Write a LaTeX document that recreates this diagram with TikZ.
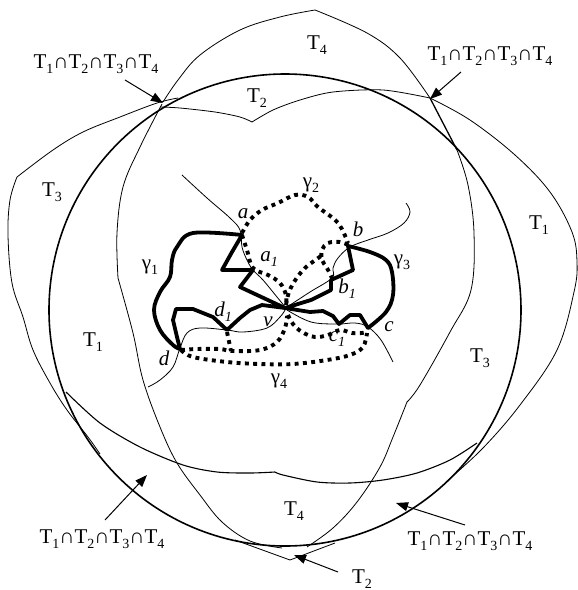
\documentclass[tikz,border=0pt]{standalone}
\usepackage{fontspec}
\setmainfont{Liberation Serif}
\usetikzlibrary{arrows.meta}
\newcommand\sbs[1]{\raisebox{-0.24em}{\fontsize{14}{14}\selectfont #1}}
\newcommand\TTTT{T\sbs{1}∩T\sbs{2}∩T\sbs{3}∩T\sbs{4}}
\begin{document}
\begin{tikzpicture}[x=1pt,y=-1pt,
  thinline/.style={line width=0.8pt},
  nline/.style={line width=1.1pt},
  circ/.style={line width=1.6pt},
  gsolid/.style={line width=3.8pt,line join=round,line cap=round},
  gdot/.style={line width=3.9pt,dash pattern=on 3.9pt off 4.4pt},
  lab/.style={font=\fontsize{21}{23}\selectfont,inner sep=0pt},
  ilab/.style={font=\fontsize{21}{23}\selectfont\itshape,inner sep=0pt},
  arr/.style={line width=1pt,-{Triangle[length=12pt,width=9pt]}}]
\useasboundingbox (0,0) rectangle (578,590);

% big thick circle
\draw[circ] (285,310) circle[radius=236];

% pointy top curve
\draw[thinline] plot[smooth,tension=0.6] coordinates {(163,102) (178,80) (200,55) (240,30) (280,17) (315,10)};
\draw[thinline] plot[smooth,tension=0.6] coordinates {(315,10) (367,33) (400,58) (430,98)};
% outer right curve
\draw[thinline] plot[smooth,tension=0.6] coordinates {(430,98) (470,120) (515,155) (550,192) (572,232) (577,262) (574,292) (557,350) (520,405) (483,448) (447,481)};
% outer left curve
\draw[thinline] plot[smooth,tension=0.6] coordinates {(178,98) (157,103) (120,117) (83,132) (53,150) (17,177)};
\draw[thinline] plot[smooth,tension=0.6] coordinates {(17,177) (10,200) (8,235) (12,283) (23,317) (33,350) (50,383) (67,410) (88,437) (100,454)};
% notched curve, top part
\draw[thinline] plot[smooth,tension=0.5] coordinates {(160,107) (180,108) (215,112) (240,117) (252,122)};
\draw[thinline] plot[smooth,tension=0.5] coordinates {(252,122) (273,110) (300,100) (333,92) (383,90) (430,98)};
\draw[line width=1.3pt] (430,98) -- (457,150);
% notched curve, bottom part
\draw[nline] plot[smooth,tension=0.5] coordinates {(66,392) (100,423) (140,447) (183,465) (217,472) (250,473) (275,472)};
\draw[nline] plot[smooth,tension=0.5] coordinates {(275,472) (283,475) (317,482) (350,483) (383,480) (417,473) (450,460) (477,443)};
% inner left curve
\draw[thinline] plot[smooth,tension=0.6] coordinates {(162,104) (140,147) (123,187) (117,233) (118,278)};
\draw[thinline] plot[smooth,tension=0.6] coordinates {(118,278) (133,333) (143,380) (160,427) (177,463) (200,495) (222,522) (250,541) (282,548)};
% inner right curve
\draw[thinline] plot[smooth,tension=0.6] coordinates {(457,150) (468,185) (474,233) (471,290) (450,332) (420,385) (407,402)};
\draw[thinline] plot[smooth,tension=0.6] coordinates {(407,402) (393,437) (380,467) (357,502) (333,528) (307,547)};
% bottom kink
\draw[thinline] (235,540) -- (290,560) -- (335,543);

% ---- centre: thin curves
\draw[thinline] plot[smooth,tension=0.6] coordinates {(182,175) (207,198) (230,218) (240,230) (242,247) (247,260) (253,270) (263,280) (277,297) (286,308)};
\draw[thinline] plot[smooth,tension=0.6] coordinates {(406,203) (410,212) (404,223) (388,233) (368,240) (350,247) (338,258) (333,268) (332,278) (310,292) (287,307)};
\draw[thinline] plot[smooth,tension=0.6] coordinates {(287,310) (311,322) (338,324) (355,323) (368,327) (381,340) (393,362)};
\draw[thinline] plot[smooth,tension=0.6] coordinates {(285,310) (280,317) (267,328) (243,332) (227,330) (200,328) (187,333) (180,348) (173,367) (160,380) (148,387)};

% gamma 1 (solid)
\draw[gsolid] plot[smooth,tension=0.6] coordinates {(242,235) (193,233) (177,247) (172,260) (170,277) (160,292) (154,310) (160,330) (173,345) (180,349)};
\draw[gsolid] (180,349) -- (177,337) -- (173,320) -- (176,309) -- (193,309) -- (213,317) -- (227,330) -- (240,318) -- (250,310) -- (262,305) -- (285,308)
  -- (240,287) -- (253,270) -- (222,270) -- (232,252) -- (242,235);
% gamma 3 (solid)
\draw[gsolid] plot[smooth,tension=0.6] coordinates {(348,246) (370,252) (386,260) (392,272) (393,295) (386,312) (368,328)};
\draw[gsolid] (368,328) -- (360,315) -- (350,315) -- (339,324) -- (333,316) -- (323,311) -- (310,312) -- (285,308)
  -- (311,300) -- (331,290) -- (331,280) -- (353,270) -- (348,246);

% gamma 2 (dotted)
\draw[gdot] plot[smooth,tension=0.6] coordinates {(242,233) (250,220) (262,210) (278,203) (295,195) (308,197) (318,207) (338,223) (348,243)};
\draw[gdot] plot[smooth,tension=0.6] coordinates {(348,245) (340,242) (328,243) (322,250) (322,260) (327,268) (332,278)};
\draw[gdot] plot[smooth,tension=0.6] coordinates {(286,305) (289,292) (296,279) (305,268) (314,261) (321,256)};
\draw[gdot] plot[smooth,tension=0.6] coordinates {(242,235) (247,250) (253,268) (268,275) (280,283) (286,295) (286,306)};
% gamma 4 (dotted)
\draw[gdot] plot[smooth,tension=0.6] coordinates {(181,350) (193,357) (227,362) (260,364) (293,364) (327,360) (350,355) (363,347) (367,333)};
\draw[gdot] plot[smooth,tension=0.6] coordinates {(181,350) (197,349) (220,349) (232,351) (260,350) (277,342) (285,328) (287,316)};
\draw[gdot] (227,332) -- (231,351);
\draw[gdot] plot[smooth,tension=0.6] coordinates {(288,315) (293,324) (302,332) (315,337) (328,335) (340,330) (352,333) (362,333) (367,332)};

% ---- labels
\node[lab] (Ltl) at (96,64) {\TTTT};
\node[lab] (Ltr) at (490,56) {\TTTT};
\node[lab] (Lbl) at (102,539) {\TTTT};
\node[lab] (Lbr) at (470,541) {\TTTT};
\node[lab] (T4t) at (317,45) {T\sbs{4}};
\node[lab] (T2t) at (257,98) {T\sbs{2}};
\node[lab] (T3l) at (52,192) {T\sbs{3}};
\node[lab] (T1l) at (93,342) {T\sbs{1}};
\node[lab] (T1r) at (539,225) {T\sbs{1}};
\node[lab] (T3r) at (480,358) {T\sbs{3}};
\node[lab] (T4b) at (294,511) {T\sbs{4}};
\node[lab] (T2b) at (362,579) {T\sbs{2}};

\node[ilab] (la) at (243,214) {a};
\node[ilab] (la1) at (269,259) {a\sbs{1}};
\node[ilab] (lb) at (358,229) {b};
\node[ilab] (lb1) at (347,289) {b\sbs{1}};
\node[ilab] (lc) at (389,327) {c};
\node[ilab] (lc1) at (337,339) {c\sbs{1}};
\node[ilab] (ld) at (164,358) {d};
\node[ilab] (ld1) at (223,312) {d\sbs{1}};
\node[ilab] (lv) at (268,322) {v};
\node[lab] (g1) at (150,267) {γ\sbs{1}};
\node[lab] (g2) at (311,185) {γ\sbs{2}};
\node[lab] (g3) at (402,262) {γ\sbs{3}};
\node[lab] (g4) at (279,381) {γ\sbs{4}};

% ---- arrows
\coordinate (tlTail) at (125,80);  \coordinate (tlTip) at (163,103);
\coordinate (trTail) at (461,72);  \coordinate (trTip) at (430,99);
\coordinate (blTail) at (105,520); \coordinate (blTip) at (147,475);
\coordinate (brTail) at (465,525); \coordinate (brTip) at (396,503);
\coordinate (t2Tail) at (338,572); \coordinate (t2Tip) at (294,555);
\draw[arr] (tlTail) -- (tlTip);
\draw[arr] (trTail) -- (trTip);
\draw[arr] (blTail) -- (blTip);
\draw[arr] (brTail) -- (brTip);
\draw[arr] (t2Tail) -- (t2Tip);
\end{tikzpicture}
\end{document}
